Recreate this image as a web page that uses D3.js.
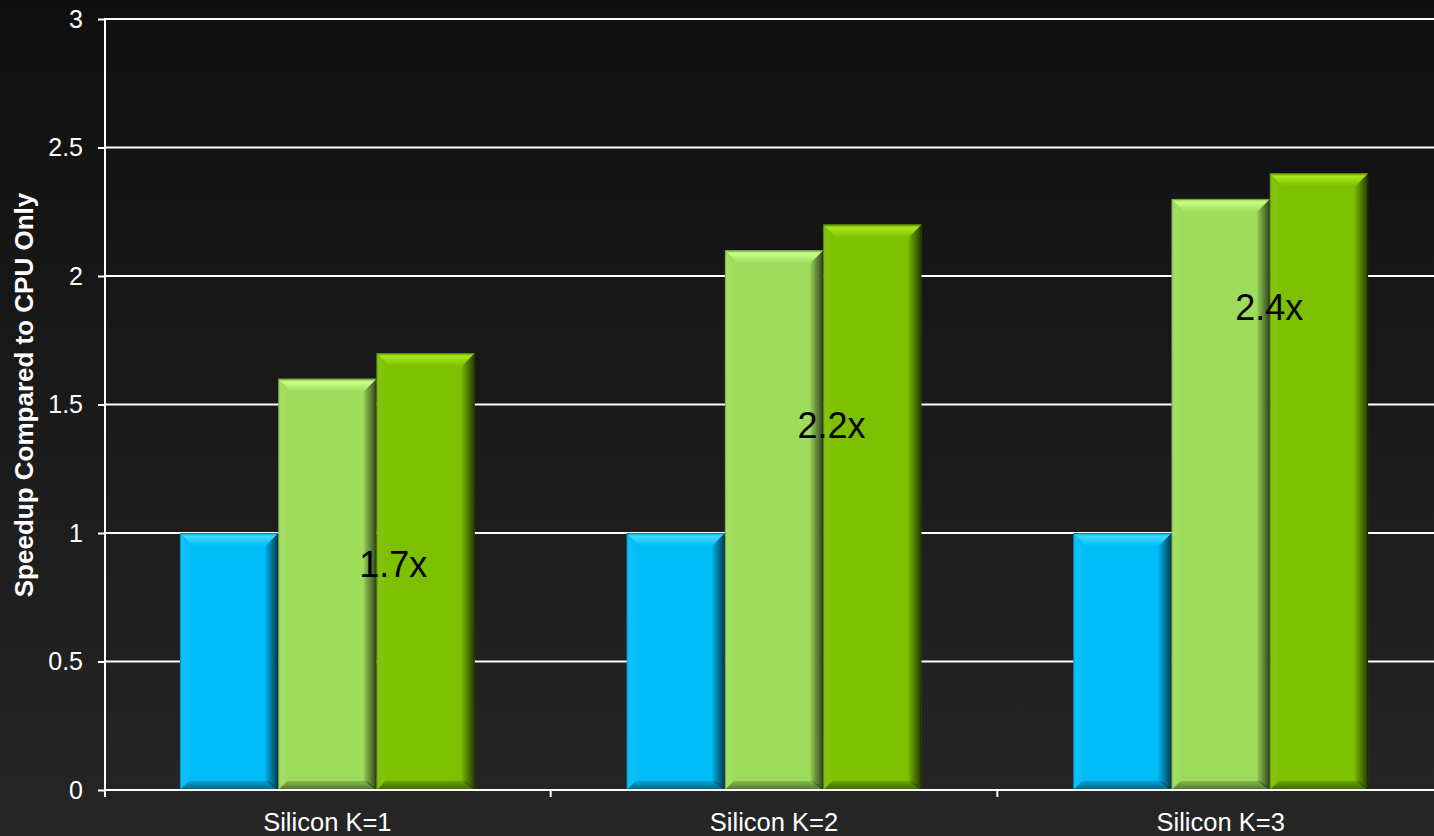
<!DOCTYPE html>
<html>
<head>
<meta charset="utf-8">
<script src="https://cdn.jsdelivr.net/npm/d3@7/dist/d3.min.js"></script>
<style>
  html, body { margin: 0; padding: 0; background: #1a1a1a; overflow: hidden; }
  svg { display: block; }
  text { font-family: Arial, "Liberation Sans", sans-serif; }
</style>
</head>
<body>
<svg id="chart" width="1434" height="836"></svg>
<script>
// ---- data ----
const categories = ["Silicon K=1", "Silicon K=2", "Silicon K=3"];
const seriesNames = ["CPU Only", "GPU A", "GPU B"];
const cpuValues = [1, 1, 1];
const gpuAValues = [1.6, 2.1, 2.3];
const gpuBValues = [1.7, 2.2, 2.4];
const yTickValues = [0, 0.5, 1, 1.5, 2, 2.5, 3];
const labelTexts = ["1.7x", "2.2x", "2.4x"];
const labelValues = [0.83, 1.37, 1.83];     // vertical anchor in data units
const labelShift = [0.17, 0.085, -0.005];   // horizontal shift in bar widths from the GPU A / GPU B seam

// ---- layout ----
const W = 1434, H = 836;
const svg = d3.select("#chart");
const margin = { left: 104, top: 19, bottom: 46 };
const plotRight = 1444;
const yBottom = H - margin.bottom; // 790

const defs = svg.append("defs");
const bg = defs.append("linearGradient").attr("id", "bg").attr("x1", 0).attr("y1", 0).attr("x2", 0).attr("y2", 1);
bg.append("stop").attr("offset", "0%").attr("stop-color", "#0f0f0f");
bg.append("stop").attr("offset", "100%").attr("stop-color", "#262626");
svg.append("rect").attr("width", W).attr("height", H).attr("fill", "url(#bg)");

const y = d3.scaleLinear().domain([0, 3]).range([yBottom, margin.top]);
const x0 = d3.scaleBand().domain(categories).range([margin.left, plotRight]).paddingInner(0.34).paddingOuter(0.17);
const x1 = d3.scaleBand().domain(seriesNames).range([0, x0.bandwidth()]).padding(0);

const colors = { "CPU Only": "#00bdf8", "GPU A": "#9edc5b", "GPU B": "#7cc000" };
const highlights = { "CPU Only": "#3fd8ff", "GPU A": "#c9ff86", "GPU B": "#a6e81a" };

// gradients
Object.keys(colors).forEach((k, i) => {
  const tg = defs.append("linearGradient").attr("id", "top" + i).attr("x1", 0).attr("y1", 0).attr("x2", 0).attr("y2", 1);
  tg.append("stop").attr("offset", "0%").attr("stop-color", d3.color(colors[k]).darker(0.3));
  tg.append("stop").attr("offset", "25%").attr("stop-color", highlights[k]);
  tg.append("stop").attr("offset", "100%").attr("stop-color", colors[k]);
});
const rg = defs.append("linearGradient").attr("id", "rightShade").attr("x1", 0).attr("y1", 0).attr("x2", 1).attr("y2", 0);
rg.append("stop").attr("offset", "0%").attr("stop-color", "#000").attr("stop-opacity", 0.05);
rg.append("stop").attr("offset", "100%").attr("stop-color", "#000").attr("stop-opacity", 0.7);
const bgr = defs.append("linearGradient").attr("id", "bottomShade").attr("x1", 0).attr("y1", 0).attr("x2", 0).attr("y2", 1);
bgr.append("stop").attr("offset", "0%").attr("stop-color", "#000").attr("stop-opacity", 0.15);
bgr.append("stop").attr("offset", "100%").attr("stop-color", "#000").attr("stop-opacity", 0.5);

// ---- grid & y axis ----
const yAxis = d3.axisLeft(y).tickValues(yTickValues).tickFormat(d3.format("~g")).tickSize(6).tickPadding(15);
const yg = svg.append("g").attr("transform", `translate(${margin.left},0)`).call(yAxis);
yg.select(".domain").remove();
yg.selectAll(".tick line").attr("stroke", "#ffffff").attr("stroke-width", 2);
yg.selectAll(".tick text").attr("fill", "#ffffff").attr("font-size", "25px");

svg.append("g").selectAll("line").data(yTickValues.filter(v => v > 0)).join("line")
  .attr("x1", margin.left).attr("x2", W)
  .attr("y1", d => y(d)).attr("y2", d => y(d))
  .attr("stroke", "#ffffff").attr("stroke-width", 2);

// ---- bars ----
const rows = categories.map((c, i) => ({
  cat: c,
  vals: [
    { s: seriesNames[0], v: cpuValues[i] },
    { s: seriesNames[1], v: gpuAValues[i] },
    { s: seriesNames[2], v: gpuBValues[i] }
  ]
}));

const b = 13, bb = 9;
const gBars = svg.append("g");
rows.forEach(r => {
  r.vals.forEach((d, si) => {
    const xl = x0(r.cat) + x1(d.s);
    const w = x1.bandwidth();
    const xr = xl + w;
    const yt = y(d.v);
    const yb = y(0);
    const g = gBars.append("g");
    g.append("rect").attr("x", xl).attr("y", yt).attr("width", w).attr("height", yb - yt).attr("fill", colors[d.s]);
    // left bevel
    g.append("polygon").attr("points", [[xl, yt], [xl + b * 0.6, yt + b], [xl + b * 0.6, yb - bb], [xl, yb]].join(" "))
      .attr("fill", "#fff").attr("opacity", 0.06);
    // right bevel
    g.append("polygon").attr("points", [[xr, yt], [xr - b, yt + b], [xr - b, yb - bb], [xr, yb]].join(" "))
      .attr("fill", "url(#rightShade)");
    // bottom bevel
    g.append("polygon").attr("points", [[xl, yb], [xl + bb, yb - bb], [xr - bb, yb - bb], [xr, yb]].join(" "))
      .attr("fill", "url(#bottomShade)");
    // top bevel
    g.append("polygon").attr("points", [[xl, yt], [xr, yt], [xr - b, yt + b], [xl + b, yt + b]].join(" "))
      .attr("fill", `url(#top${si})`);
    g.append("rect").attr("x", xl + 0.5).attr("y", yt + 0.5).attr("width", w - 1).attr("height", yb - yt - 1)
      .attr("fill", "none").attr("stroke", "#000").attr("stroke-opacity", 0.25).attr("stroke-width", 1);
  });
});

// ---- x axis ----
svg.append("line").attr("x1", margin.left).attr("x2", W).attr("y1", yBottom).attr("y2", yBottom)
  .attr("stroke", "#ffffff").attr("stroke-width", 2);
svg.append("line").attr("x1", margin.left + 1).attr("x2", margin.left + 1).attr("y1", margin.top - 1).attr("y2", yBottom + 7)
  .attr("stroke", "#ffffff").attr("stroke-width", 2);
const step = x0.step();
const boundaries = d3.range(categories.length + 1).map(i => margin.left + i * step);
svg.append("g").selectAll("line").data(boundaries.slice(1)).join("line")
  .attr("x1", d => d).attr("x2", d => d).attr("y1", yBottom).attr("y2", yBottom + 7)
  .attr("stroke", "#ffffff").attr("stroke-width", 2);

const xAxis = d3.axisBottom(x0).tickSize(0).tickPadding(0);
const xg = svg.append("g").attr("transform", `translate(0,${yBottom})`).call(xAxis);
xg.select(".domain").remove();
xg.selectAll(".tick text").attr("fill", "#ffffff").attr("font-size", "25.5px").attr("dy", null).attr("y", 41);

// ---- y title ----
svg.append("text")
  .attr("transform", `translate(33,${395}) rotate(-90)`)
  .attr("text-anchor", "middle").attr("fill", "#ffffff")
  .attr("font-size", "26px").attr("font-weight", "bold")
  .text("Speedup Compared to CPU Only");

// ---- value labels ----
svg.append("g").selectAll("text").data(categories).join("text")
  .attr("x", (c, i) => x0(c) + x1(seriesNames[2]) + labelShift[i] * x1.bandwidth())
  .attr("y", (c, i) => y(labelValues[i]))
  .attr("text-anchor", "middle").attr("fill", "#000").attr("font-size", "36px")
  .text((c, i) => labelTexts[i]);
</script>
</body>
</html>
